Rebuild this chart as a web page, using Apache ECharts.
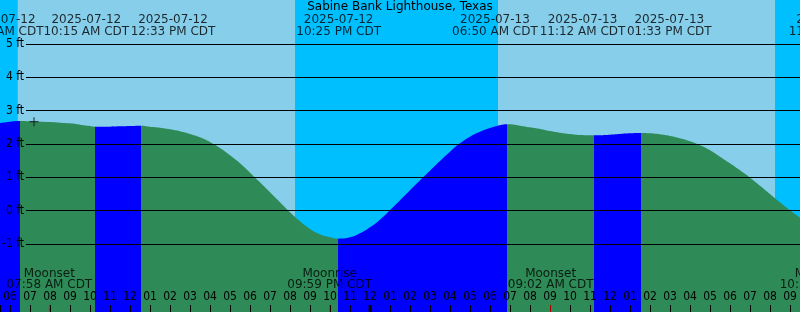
<!DOCTYPE html>
<html><head><meta charset="utf-8">
<script src="https://cdn.jsdelivr.net/npm/echarts@6/dist/echarts.min.js"></script>
<style>html,body{margin:0;padding:0;background:#87CEEB}#c{width:800px;height:312px}</style>
</head><body><div id="c"></div>
<script>
// ---- data (hours counted from 2025-07-12 00:00 CDT) ----
const stationTitle = 'Sabine Bank Lighthouse, Texas';
const tideHours = [5.5, 6.0, 6.5, 7.0, 7.5, 8.0, 8.5, 9.0, 9.5, 10.0, 10.25, 10.5, 11.0, 11.5, 12.0, 12.55,
  13.0, 13.5, 14.0, 14.5, 15.0, 15.5, 16.0, 16.5, 17.0, 17.5, 18.0, 18.5, 19.0, 19.5, 20.0, 20.5, 21.0, 21.5,
  22.0, 22.42, 23.0, 23.5, 24.0, 24.5, 25.0, 25.5, 26.0, 26.5, 27.0, 27.5, 28.0, 28.5, 29.0, 29.5, 30.0, 30.5,
  30.83, 31.5, 32.0, 32.5, 33.0, 33.5, 34.0, 34.5, 35.2, 35.5, 36.0, 36.5, 37.0, 37.55, 38.0, 38.5, 39.0, 39.5,
  40.0, 40.5, 41.0, 41.5, 42.0, 42.5, 43.0, 43.5, 44.0, 44.5, 45.0, 45.5];
const tideFeet = [2.63, 2.67, 2.69, 2.68, 2.67, 2.66, 2.64, 2.62, 2.58, 2.54, 2.52, 2.52, 2.52, 2.53, 2.54, 2.55,
  2.52, 2.49, 2.44, 2.38, 2.30, 2.20, 2.06, 1.88, 1.66, 1.42, 1.14, 0.85, 0.55, 0.25, -0.05, -0.32, -0.55, -0.71,
  -0.80, -0.84, -0.80, -0.68, -0.50, -0.27, 0.01, 0.31, 0.61, 0.91, 1.20, 1.49, 1.77, 2.02, 2.22, 2.37, 2.48, 2.56,
  2.59, 2.55, 2.50, 2.45, 2.39, 2.34, 2.30, 2.27, 2.26, 2.265, 2.28, 2.30, 2.32, 2.33, 2.32, 2.29, 2.24, 2.17,
  2.08, 1.96, 1.81, 1.62, 1.42, 1.21, 0.99, 0.75, 0.50, 0.25, 0.01, -0.21];
const tideEventHours = [6.5, 10.25, 12.55, 22.417, 30.833, 35.2, 37.55, 47.05];
const tideEventTypes = ['high', 'low', 'high', 'low', 'high', 'low', 'high', 'low'];
const tideEventLabels = ['2025-07-12\n06:30 AM CDT', '2025-07-12\n10:15 AM CDT', '2025-07-12\n12:33 PM CDT',
  '2025-07-12\n10:25 PM CDT', '2025-07-13\n06:50 AM CDT', '2025-07-13\n11:12 AM CDT',
  '2025-07-13\n01:33 PM CDT', '2025-07-13\n11:03 PM CDT'];
const sunriseHours = [6.385, 30.4];
const sunsetHours = [20.25, 44.25];
const moonEventHours = [7.967, 21.983, 33.033, 46.6];
const moonEventLabels = ['Moonset\n07:58 AM CDT', 'Moonrise\n09:59 PM CDT', 'Moonset\n09:02 AM CDT', 'Moonrise\n10:36 PM CDT'];
const nowHour = 7.2, nowFeet = 2.67;
const dayBoundaryHours = [24];
const xMin = 5.5, xMax = 45.5;
const yMin = -3.04, yMax = 6.32;
const yTickMin = -1, yTickMax = 5;

// ---- colours / layout ----
const C_DAY = '#87CEEB', C_NIGHT = '#00BFFF', C_EBB = '#2E8B57', C_FLOOD = '#0000FF';
const FONT = 'DejaVu Sans';
const FONT_NARROW = 'DejaVu Sans Condensed';
const tideLabelShift = [-19.3, -8.7, 32, 0.3, -11.7, -11.5, 28.3, 0];

const nightRanges = [[xMin, sunriseHours[0]], [sunsetHours[0], sunriseHours[1]], [sunsetHours[1], xMax]];
const pieces = [];
let prev = -Infinity;
tideEventHours.forEach((h, i) => {
  const color = tideEventTypes[i] === 'high' ? C_FLOOD : C_EBB;
  const p = { lt: h, color };
  if (prev !== -Infinity) p.gte = prev;
  pieces.push(p);
  prev = h;
});
pieces.push({ gte: prev, color: tideEventTypes[tideEventTypes.length - 1] === 'high' ? C_EBB : C_FLOOD });

const hourFmt = v => {
  if (Math.abs(v - Math.round(v)) > 1e-6) return '';
  const h = ((Math.round(v) % 24) + 24) % 24;
  const h12 = h % 12 === 0 ? 12 : h % 12;
  return String(h12).padStart(2, '0');
};

const chart = echarts.init(document.getElementById('c'), null, { renderer: 'canvas' });
chart.setOption({
  animation: false,
  backgroundColor: C_DAY,
  title: { text: stationTitle, left: 'center', top: 1, padding: 0,
    textStyle: { fontFamily: FONT, fontSize: 12, fontWeight: 'normal', color: '#000' } },
  grid: [
    { left: 0, right: 0, top: 0, bottom: 0, containLabel: false, outerBoundsMode: 'none' },
    { left: 26, right: 0, top: 44, bottom: 68, containLabel: false, outerBoundsMode: 'none' }
  ],
  xAxis: [
    { type: 'value', gridIndex: 0, min: xMin, max: xMax, splitNumber: 40, minInterval: 1, maxInterval: 1, z: 10,
      axisLine: { show: false, onZero: false }, splitLine: { show: false },
      axisTick: { show: true, inside: true, length: 7, lineStyle: { color: '#000', width: 1 } },
      axisLabel: { inside: true, margin: 9, formatter: hourFmt, color: '#000', fontFamily: FONT_NARROW, fontSize: 12 } },
    { type: 'value', gridIndex: 1, min: 0, max: 1, show: false }
  ],
  yAxis: [
    { type: 'value', gridIndex: 0, min: yMin, max: yMax, show: false },
    { type: 'value', gridIndex: 1, min: yTickMin, max: yTickMax, interval: 1, z: 10,
      axisLine: { show: false }, axisTick: { show: false },
      splitLine: { show: true, lineStyle: { color: '#000', width: 1 } },
      axisLabel: { margin: 2, formatter: '{value} ft', color: '#000', fontFamily: FONT_NARROW, fontSize: 12 } }
  ],
  visualMap: { type: 'piecewise', show: false, dimension: 0, seriesIndex: 1, pieces },
  series: [
    { type: 'line', name: 'night', xAxisIndex: 0, yAxisIndex: 0, data: [], z: 0, silent: true,
      markArea: { silent: true, itemStyle: { color: C_NIGHT, opacity: 1 },
        data: nightRanges.map(r => [{ xAxis: r[0] }, { xAxis: r[1] }]) } },
    { type: 'line', name: 'tide', xAxisIndex: 0, yAxisIndex: 0, z: 2, smooth: 0.5,
      showSymbol: false, symbol: 'none',
      lineStyle: { width: 0 }, areaStyle: { origin: 'start', opacity: 1 },
      data: tideHours.map((h, i) => [h, tideFeet[i]]) },
    { type: 'line', xAxisIndex: 1, yAxisIndex: 1, data: [] },
    { type: 'scatter', name: 'now', z: 6, symbol: 'path://M4,0h1v9h-1zM0,4h9v1h-9z', symbolSize: [9, 9],
      itemStyle: { color: '#000' }, data: [[nowHour, nowFeet]] },
    { type: 'scatter', name: 'moonTicks', z: 12, clip: false, symbol: 'rect', symbolSize: [1, 7], symbolOffset: [0, '-50%'],
      itemStyle: { color: '#FF0000' }, data: moonEventHours.map(h => [h, yMin]) },
    { type: 'scatter', name: 'dayTicks', z: 12, clip: false, symbol: 'rect', symbolSize: [3, 7], symbolOffset: [0, '-50%'],
      itemStyle: { color: '#000' }, data: dayBoundaryHours.map(h => [h, yMin]) },
    { type: 'scatter', name: 'tideLabels', z: 12, clip: false, symbolSize: 0.1, itemStyle: { color: 'transparent' },
      label: { show: true, position: 'inside', color: '#000', fontFamily: FONT, fontSize: 12, lineHeight: 12, align: 'center' },
      data: tideEventHours.map((h, i) => ({ value: [h, yMax],
        label: { formatter: tideEventLabels[i], offset: [tideLabelShift[i], 25.5] } })) },
    { type: 'scatter', name: 'moonLabels', z: 12, clip: false, symbolSize: 0.1, itemStyle: { color: 'transparent' },
      label: { show: true, position: 'inside', color: '#000', fontFamily: FONT, fontSize: 12, lineHeight: 11.5, align: 'center',
        offset: [0, -32.5] },
      data: moonEventHours.map((h, i) => ({ value: [h, yMin], label: { formatter: moonEventLabels[i] } })) }
  ]
});
</script></body></html>
